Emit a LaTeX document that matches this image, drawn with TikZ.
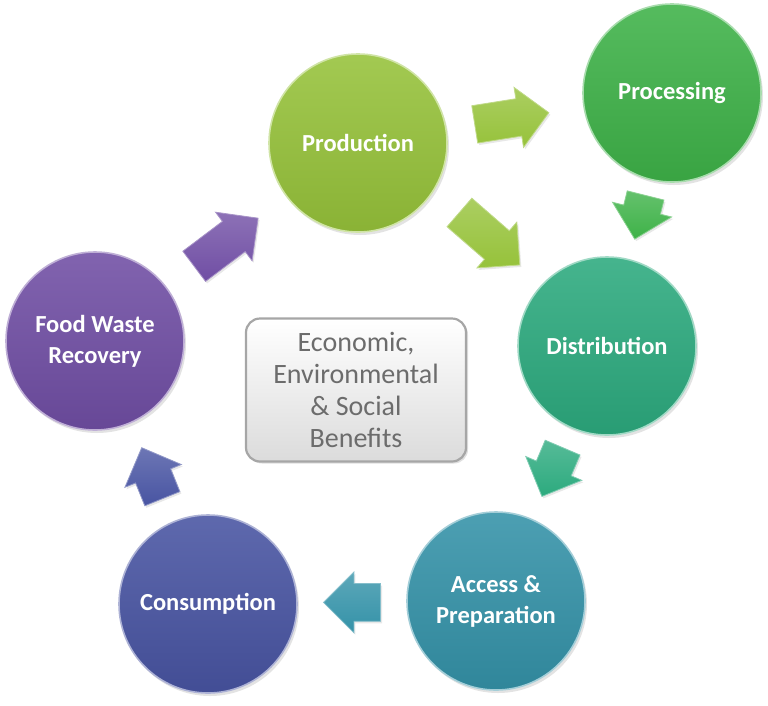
\documentclass[tikz,border=0pt]{standalone}
\usepackage{fontspec}
\setmainfont{Carlito}
\usetikzlibrary{positioning, calc, shapes.arrows, shadows}
\definecolor{prodgreen}{RGB}{150, 194, 58}
\definecolor{procgreen}{RGB}{62, 178, 72}
\definecolor{distteal}{RGB}{44, 170, 126}
\definecolor{accblue}{RGB}{52, 146, 168}
\definecolor{consblue}{RGB}{72, 84, 162}
\definecolor{wastepurple}{RGB}{112, 78, 164}
\definecolor{boxgray}{RGB}{108, 108, 108}

\tikzset{
  stage/.style={circle, minimum size=178pt, inner sep=0pt, align=center,
    text=white, font=\bfseries\fontsize{24.5}{31}\selectfont,
    top color=#1!88!white, bottom color=#1!92!black,
    draw=#1!45!white, line width=1.6pt,
    drop shadow={opacity=0.22, shadow xshift=2pt, shadow yshift=-3pt}},
  flow/.style={single arrow, single arrow head extend=11.5pt,
    single arrow tip angle=90, minimum width=60pt,
    inner xsep=0pt, inner ysep=18.5pt,
    top color=#1!80!white, bottom color=#1, draw=#1!60!white, line width=0.8pt,
    drop shadow={opacity=0.18, shadow xshift=1.5pt, shadow yshift=-2pt}},
}

\begin{document}
\begin{tikzpicture}[x=1pt, y=-1pt]
    \useasboundingbox (0,0) rectangle (768,705);

    % stages of the cycle
    \node[stage=prodgreen]   (prod)  at (358,143) {Production};
    \node[stage=procgreen]   (proc)  at (672,93)  {Processing};
    \node[stage=distteal]    (dist)  at (607,346) {Distribution};
    \node[stage=accblue]     (acc)   at (496,601) {Access \&\\Preparation};
    \node[stage=consblue]    (cons)  at (208,604) {Consumption};
    \node[stage=wastepurple] (waste) at (95,341)  {Food Waste\\Recovery};

    % centre box
    \node[draw=gray!70, line width=2.2pt, rounded corners=14pt,
          top color=white, bottom color=gray!28,
          minimum width=220pt, minimum height=143pt, align=center,
          text=boxgray, font=\fontsize{28}{32}\selectfont,
          drop shadow={opacity=0.25, shadow xshift=2pt, shadow yshift=-2pt}]
          (benefits) at (356,390) {Economic,\\Environmental\\\& Social\\Benefits};

    % block arrows between the stages
    \node[flow=prodgreen, minimum height=75pt, rotate=9]
          (a1) at ($(prod)!0.46!(proc)$) {};
    \node[flow=procgreen, minimum height=45pt, rotate=-104]
          (a2) at ($(proc)!0.455!(dist)$) {};
    \node[flow=prodgreen, minimum height=80pt, rotate=-41]
          (a3) at ($(prod)!0.5!(dist)+(0,-12)$) {};
    \node[flow=distteal, minimum height=53pt, rotate=-113]
          (a4) at ($(dist)!0.46!(acc)$) {};
    \node[flow=accblue, minimum height=57pt, rotate=180]
          (a5) at ($(acc)!0.467!(cons)$) {};
    \node[flow=consblue, minimum height=55pt, rotate=112]
          (a6) at ($(cons)!0.464!(waste)$) {};
    \node[flow=wastepurple, minimum height=80pt, rotate=37]
          (a7) at ($(waste)!0.47!(prod)$) {};
\end{tikzpicture}
\end{document}
